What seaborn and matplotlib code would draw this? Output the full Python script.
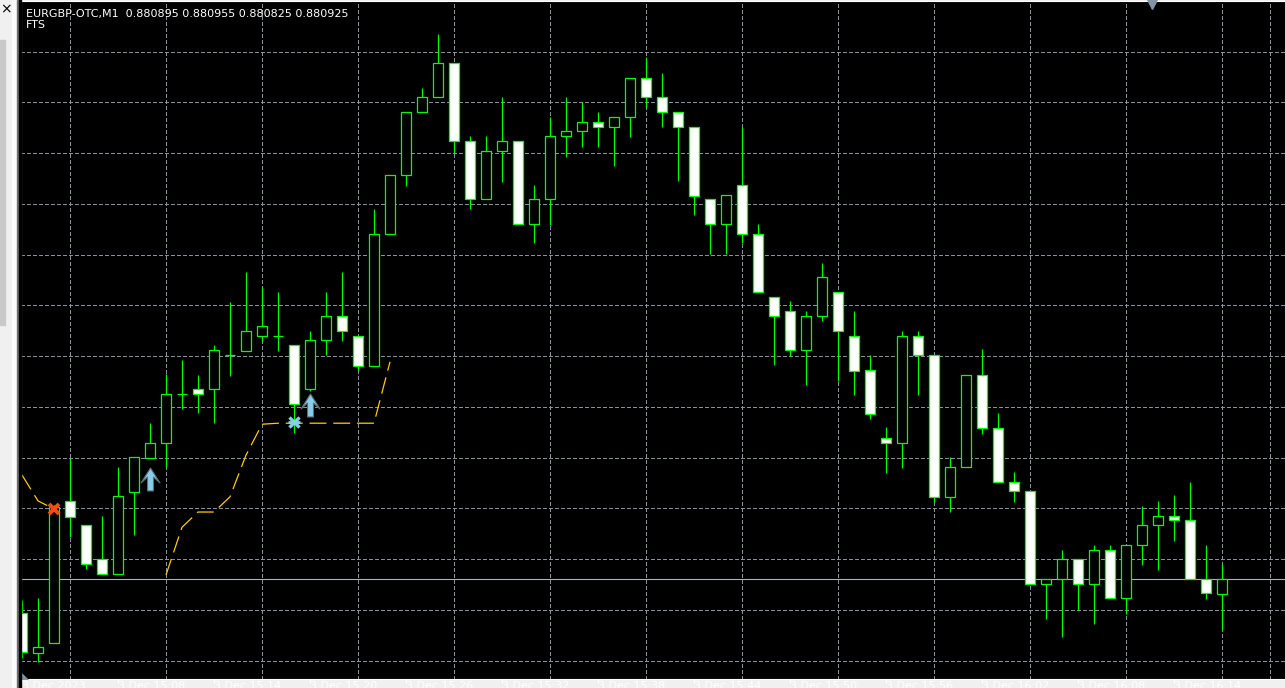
import numpy as np
import matplotlib
matplotlib.use('Agg')
import matplotlib.pyplot as plt
import seaborn as sns
from matplotlib.path import Path
from matplotlib.patches import Rectangle

# EURGBP-OTC M1 candles (oldest first)
symbol = 'EURGBP-OTC,M1'
indicator_name = 'FTS'

opens = [0.880858, 0.880779, 0.880799, 0.881079, 0.881031, 0.880964, 0.880935, 0.881096,
         0.881163, 0.881193, 0.881290, 0.881299, 0.881299, 0.881366, 0.881374, 0.881404,
         0.881404, 0.881386, 0.881299, 0.881396, 0.881443, 0.881404, 0.881345, 0.881605,
         0.881721, 0.881845, 0.881875, 0.881942, 0.881788, 0.881674, 0.881768, 0.881788,
         0.881624, 0.881674, 0.881798, 0.881808, 0.881825, 0.881816, 0.881835, 0.881912,
         0.881875, 0.881845, 0.881816, 0.881674, 0.881624, 0.881701, 0.881605, 0.881481,
         0.881453, 0.881376, 0.881443, 0.881490, 0.881404, 0.881337, 0.881203, 0.881193,
         0.881404, 0.881366, 0.881087, 0.881146, 0.881327, 0.881222, 0.881116, 0.881098,
         0.880915, 0.880925, 0.880964, 0.880915, 0.880982, 0.880888, 0.880992, 0.881031,
         0.881049, 0.881041, 0.880925, 0.880895]
highs = [0.880884, 0.880888, 0.881071, 0.881163, 0.881031, 0.881049, 0.881146, 0.881165,
         0.881232, 0.881329, 0.881356, 0.881327, 0.881386, 0.881471, 0.881530, 0.881500,
         0.881490, 0.881386, 0.881414, 0.881490, 0.881530, 0.881404, 0.881654, 0.881721,
         0.881845, 0.881892, 0.881999, 0.881942, 0.881798, 0.881798, 0.881875, 0.881788,
         0.881701, 0.881835, 0.881875, 0.881865, 0.881845, 0.881835, 0.881912, 0.881954,
         0.881922, 0.881845, 0.881816, 0.881674, 0.881682, 0.881816, 0.881624, 0.881481,
         0.881473, 0.881453, 0.881548, 0.881490, 0.881453, 0.881366, 0.881224, 0.881414,
         0.881414, 0.881366, 0.881165, 0.881327, 0.881378, 0.881252, 0.881136, 0.881098,
         0.880925, 0.880982, 0.880964, 0.880992, 0.880992, 0.880992, 0.881069, 0.881079,
         0.881090, 0.881116, 0.880992, 0.880955]
lows = [0.880769, 0.880761, 0.880799, 0.881008, 0.880945, 0.880935, 0.880935, 0.881012,
        0.881163, 0.881146, 0.881260, 0.881252, 0.881232, 0.881325, 0.881374, 0.881394,
        0.881374, 0.881213, 0.881295, 0.881366, 0.881394, 0.881337, 0.881345, 0.881605,
        0.881699, 0.881845, 0.881875, 0.881764, 0.881654, 0.881674, 0.881707, 0.881624,
        0.881587, 0.881622, 0.881756, 0.881776, 0.881776, 0.881739, 0.881796, 0.881855,
        0.881816, 0.881709, 0.881642, 0.881565, 0.881565, 0.881587, 0.881490, 0.881347,
        0.881364, 0.881307, 0.881433, 0.881315, 0.881288, 0.881240, 0.881134, 0.881144,
        0.881288, 0.881077, 0.881057, 0.881146, 0.881211, 0.881116, 0.881077, 0.880915,
        0.880846, 0.880811, 0.880864, 0.880836, 0.880888, 0.880856, 0.880953, 0.880943,
        0.881000, 0.880925, 0.880886, 0.880825]
closes = [0.880781, 0.880791, 0.881067, 0.881047, 0.880955, 0.880935, 0.881089, 0.881165,
          0.881193, 0.881290, 0.881290, 0.881290, 0.881376, 0.881366, 0.881414, 0.881424,
          0.881404, 0.881270, 0.881396, 0.881443, 0.881414, 0.881345, 0.881605, 0.881721,
          0.881845, 0.881875, 0.881942, 0.881788, 0.881674, 0.881768, 0.881788, 0.881624,
          0.881674, 0.881798, 0.881808, 0.881825, 0.881816, 0.881835, 0.881912, 0.881875,
          0.881845, 0.881816, 0.881680, 0.881624, 0.881682, 0.881605, 0.881490, 0.881443,
          0.881376, 0.881443, 0.881520, 0.881414, 0.881335, 0.881250, 0.881193, 0.881404,
          0.881366, 0.881087, 0.881146, 0.881327, 0.881222, 0.881116, 0.881098, 0.880915,
          0.880925, 0.880964, 0.880915, 0.880982, 0.880888, 0.880992, 0.881031, 0.881049,
          0.881041, 0.880925, 0.880897, 0.880925]

# FTS trailing line (gaps where the indicator is not drawn)
nan = np.nan
fts_line = [0.881130, 0.881079, 0.881063, nan, nan, nan, nan, nan, nan,
            0.880933, 0.881027, 0.881057, 0.881057, 0.881087, 0.881169, 0.881230,
            0.881232, 0.881232, 0.881232, 0.881232, 0.881232, 0.881232, 0.881232,
            0.881353] + [nan] * 52

# signals
arrow_idx = [8, 18]
arrow_price = [0.881122, 0.881267]
cross_idx = [2]
cross_price = [0.881063]
star_idx = [17]
star_price = [0.881234]

# time axis
label_pos = [0, 6, 12, 18, 24, 30, 36, 42, 48, 54, 60, 66, 72]
time_labels = ['3 Dec 2023', '3 Dec 15:08', '3 Dec 15:14', '3 Dec 15:20', '3 Dec 15:26',
               '3 Dec 15:32', '3 Dec 15:38', '3 Dec 15:44', '3 Dec 15:50', '3 Dec 15:56',
               '3 Dec 16:02', '3 Dec 16:08', '3 Dec 16:14']
grid_pos = list(range(0, 82, 3))
price_grid = [0.880764, 0.880864, 0.880964, 0.881064, 0.881164, 0.881264, 0.881364,
              0.881464, 0.881564, 0.881664, 0.881764, 0.881864, 0.881964]

green = '#00ff00'
grid_col = '#8593a1'

sns.set_theme(style='dark', rc={'axes.facecolor': 'black', 'figure.facecolor': '#f0f0f0'})
plt.rcParams['font.family'] = ['DejaVu Sans']

W, H = 1285, 688
fig = plt.figure(figsize=(12.85, 6.88), dpi=100)
ax_left, ax_right, ax_top, ax_bottom = 21, 1330, 1, 679
ax = fig.add_axes([ax_left / W, (H - ax_bottom) / H, (ax_right - ax_left) / W, (ax_bottom - ax_top) / H])
ax.set_facecolor('black')

# window chrome on the left
fig.add_artist(Rectangle((0, 0), 19 / W, 1, transform=fig.transFigure, color='#f0f0f0', zorder=0))
fig.add_artist(Rectangle((0, (H - 325) / H), 5 / W, 285 / H, transform=fig.transFigure, color='#c9c9c9', zorder=1))
fig.add_artist(Rectangle((12 / W, 0), 5 / W, 1, transform=fig.transFigure, color='#fbfbfb', zorder=1))
fig.add_artist(Rectangle((17 / W, 0), 2 / W, 1, transform=fig.transFigure, color='#6e6e6e', zorder=1))
fig.add_artist(Rectangle((19 / W, 0), 2 / W, 1, transform=fig.transFigure, color='black', zorder=1))
fig.text(0.5 / W, 1 - 13 / H, '×', fontsize=10, color='black', va='baseline')

idx = np.arange(len(opens))
o = np.array(opens)
c = np.array(closes)
up = c >= o

# candles
ax.vlines(idx, lows, highs, color=green, lw=0.9, zorder=3)
ax.bar(idx, np.abs(c - o), bottom=np.minimum(o, c), width=0.58,
       color=np.where(up, 'black', 'white'), edgecolor=green, linewidth=0.9, zorder=4)

# bid line
ax.axhline(closes[-1], color='#a9b1b9', lw=0.8, zorder=2)

# FTS line
ax.plot(idx, fts_line, color='#ffcc00', lw=0.9, dashes=(13.5, 5.5), zorder=5)

# up arrows
arrow_path = Path([(0, 11.5), (9.5, -3.5), (3, 2.5), (3, -11.5), (-3, -11.5),
                   (-3, 2.5), (-9.5, -3.5), (0, 11.5)], closed=True)
sns.scatterplot(x=arrow_idx, y=arrow_price, marker=arrow_path, s=16.5 ** 2, color='#87ceeb',
                edgecolor='#5d6d78', linewidth=0.8, zorder=6, legend=False, ax=ax)

# cross and star signals
ax.plot(cross_idx, cross_price, linestyle='none', marker='x', ms=7.5, mew=2.8, color='#ff4a12', zorder=7)
ax.plot(star_idx, star_price, linestyle='none', marker='x', ms=7, mew=2.4, color='#87ceeb', zorder=7)
ax.plot(star_idx, star_price, linestyle='none', marker='_', ms=8, mew=2.0, color='#87ceeb', zorder=7)

# chart shift markers
ax.plot([70.6], [0.996], transform=ax.get_xaxis_transform(), marker='v', ms=7,
        color='#8494a4', clip_on=False, zorder=8)
corner = Path([(-1, -1), (-1, 1), (1, -1), (-1, -1)], closed=True)
ax.plot([0.0025], [0.0045], transform=ax.transAxes, marker=corner, ms=6,
        color='#8494a4', zorder=8)

# axes / grid
ax.set_xlim(-0.0625, -0.0625 + (ax_right - ax_left) / 16)
ax.set_ylim(0.880728, 0.8820639)
ax.set_xticks(label_pos)
ax.set_xticklabels(time_labels, ha='left', color='white', fontsize=8)
ax.set_xticks(grid_pos, minor=True)
ax.set_yticks(price_grid)
ax.tick_params(axis='x', which='major', bottom=True, length=3, width=0.8, color='white', pad=-1.6)
ax.tick_params(axis='x', which='minor', length=0)
ax.tick_params(axis='y', length=0, labelleft=False)
ax.grid(False)
ax.grid(True, which='minor', axis='x', color=grid_col, lw=0.75, dashes=(3.2, 2.4), antialiased=False)
ax.grid(True, which='major', axis='y', color=grid_col, lw=0.75, dashes=(3.2, 2.4), antialiased=False)
ax.set_axisbelow(True)
for side in ['left', 'bottom', 'top']:
    ax.spines[side].set_color('white')
    ax.spines[side].set_linewidth(0.8)
    ax.spines[side].set_visible(True)

# header text
header = f'{symbol}  {opens[-1]:.6f} {highs[-1]:.6f} {lows[-1]:.6f} {closes[-1]:.6f}'
fig.text(26 / W, 1 - 16.5 / H, header, color='white', fontsize=8, va='baseline')
fig.text(26 / W, 1 - 28.5 / H, indicator_name, color='white', fontsize=8, va='baseline')

fig.savefig('out.png', dpi=100, facecolor=fig.get_facecolor())
